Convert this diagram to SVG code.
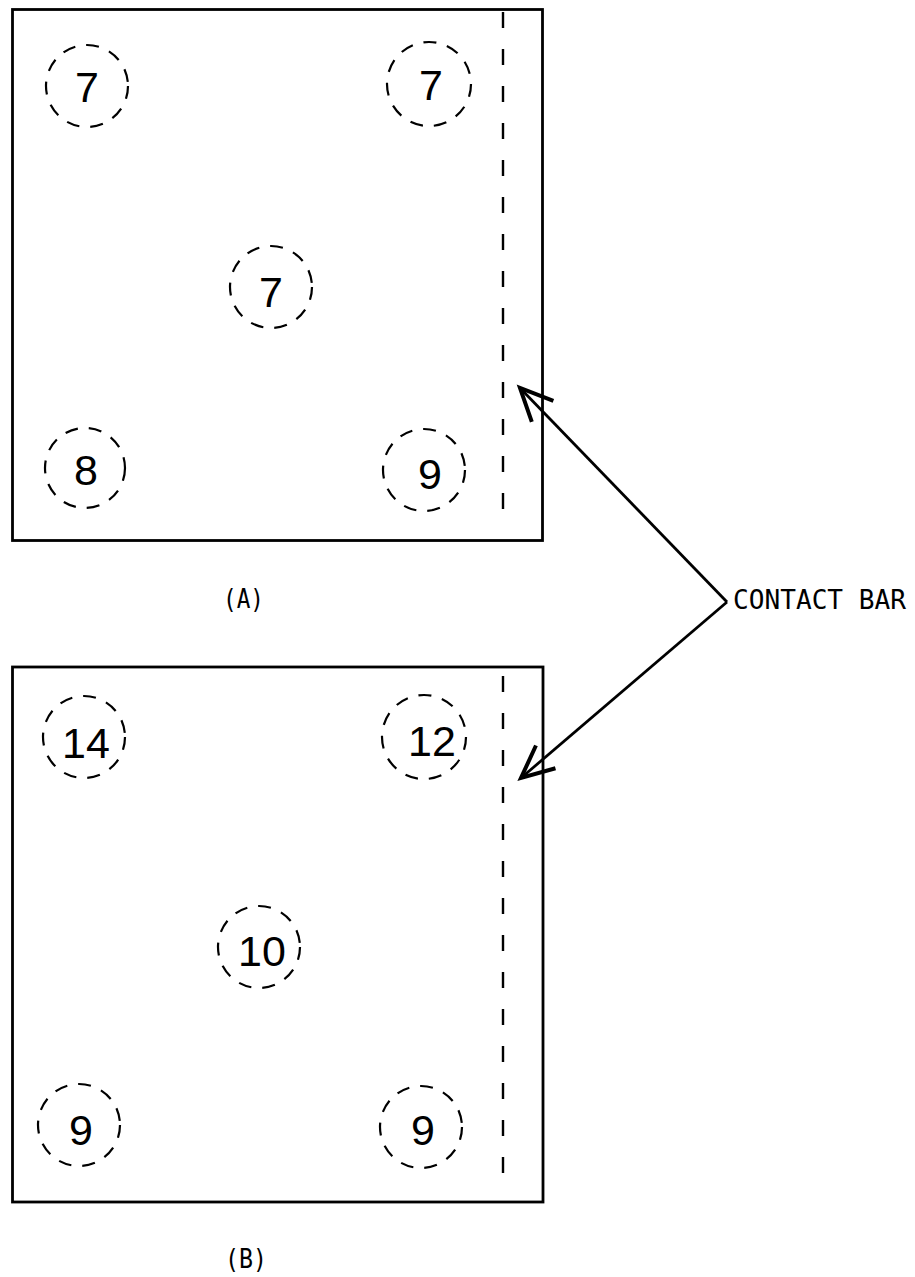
<svg xmlns="http://www.w3.org/2000/svg" width="915" height="1277" viewBox="0 0 915 1277">
<style>
.box{fill:none;stroke:#000;stroke-width:2.8}
.bar{fill:none;stroke:#000;stroke-width:2.4;stroke-dasharray:16 21}
.ring{fill:none;stroke:#000;stroke-width:2.2;stroke-dasharray:13 11}
.num{font-family:"Liberation Sans",Arial,sans-serif;font-size:43px;fill:#000;text-anchor:middle}
.lbl{font-family:"DejaVu Sans Mono","Liberation Mono",monospace;font-size:26px;fill:#000}
.conn{fill:none;stroke:#000;stroke-width:2.8}
</style>
<defs>
<marker id="vhead" markerUnits="userSpaceOnUse" markerWidth="40" markerHeight="40" viewBox="-2 -16 32 32" refX="26" refY="0" orient="auto">
<path d="M0,-12 L26,0 L0,12" fill="none" stroke="#000" stroke-width="3.2" stroke-linejoin="miter"/>
</marker>
</defs>
<rect x="0" y="0" width="915" height="1277" fill="#fff"/>

<g id="panel-a">
<rect class="box" x="12.5" y="9.5" width="530" height="531"/>
<line class="bar" x1="503" y1="12" x2="503" y2="520"/>
<g id="a-tl"><circle class="ring" cx="87" cy="86" r="41"/><text class="num" x="87" y="102">7</text></g>
<g id="a-tr"><circle class="ring" cx="429" cy="84" r="42"/><text class="num" x="431" y="100">7</text></g>
<g id="a-mid"><circle class="ring" cx="271" cy="287" r="41"/><text class="num" x="271" y="307">7</text></g>
<g id="a-bl"><circle class="ring" cx="85" cy="468" r="40"/><text class="num" x="86" y="485">8</text></g>
<g id="a-br"><circle class="ring" cx="424" cy="470" r="41"/><text class="num" x="430" y="489">9</text></g>
<text class="lbl" x="223" y="608" textLength="41" lengthAdjust="spacingAndGlyphs">(A)</text>
</g>

<g id="panel-b">
<rect class="box" x="12.5" y="667" width="530.5" height="535"/>
<line class="bar" x1="503" y1="676" x2="503" y2="1193"/>
<g id="b-tl"><circle class="ring" cx="84" cy="737" r="41"/><text class="num" x="86" y="758">14</text></g>
<g id="b-tr"><circle class="ring" cx="424" cy="737" r="42"/><text class="num" x="432" y="756">12</text></g>
<g id="b-mid"><circle class="ring" cx="259" cy="947" r="41"/><text class="num" x="262" y="966">10</text></g>
<g id="b-bl"><circle class="ring" cx="79" cy="1125" r="41"/><text class="num" x="81" y="1145">9</text></g>
<g id="b-br"><circle class="ring" cx="421" cy="1127" r="41"/><text class="num" x="423" y="1145">9</text></g>
<text class="lbl" x="225" y="1268" textLength="42" lengthAdjust="spacingAndGlyphs">(B)</text>
</g>

<g id="contact-bar">
<text class="lbl" x="733" y="609" textLength="173" lengthAdjust="spacingAndGlyphs">CONTACT BAR</text>
</g>

<g id="connectors">
<path class="conn" d="M727,602 L520,388" marker-end="url(#vhead)"/>
<path class="conn" d="M727,602 L521,778" marker-end="url(#vhead)"/>
</g>
</svg>
